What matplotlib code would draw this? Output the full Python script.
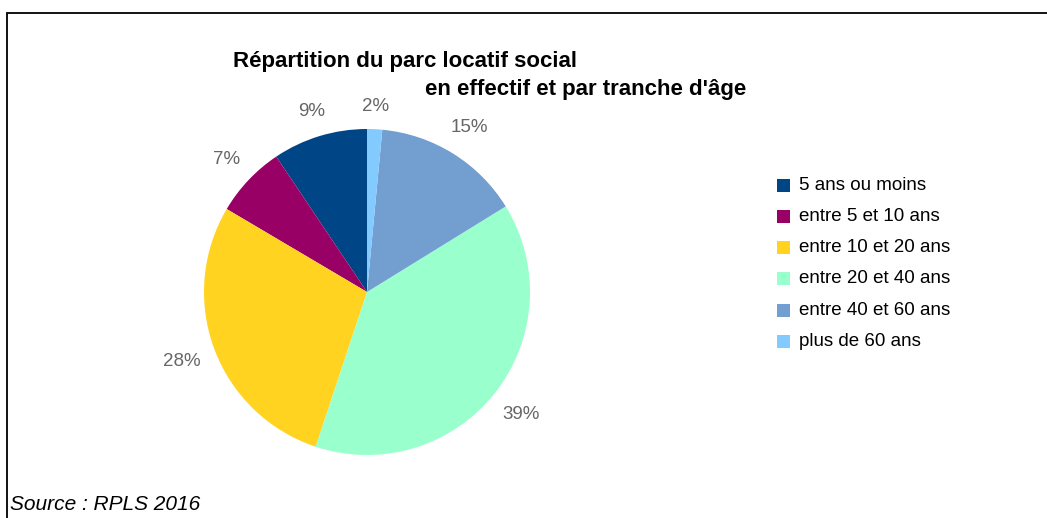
import matplotlib
matplotlib.use("Agg")
import numpy as np
import matplotlib.pyplot as plt
from matplotlib.patches import Rectangle

# Parc locatif social par tranche d'âge (RPLS 2016), en %
categories = ["5 ans ou moins", "entre 5 et 10 ans", "entre 10 et 20 ans",
              "entre 20 et 40 ans", "entre 40 et 60 ans", "plus de 60 ans"]
shares = [9.4, 7.1, 28.4, 38.9, 14.7, 1.5]
colors = ["#004586", "#990066", "#FFD320", "#99FFCC", "#729FCF", "#83CAFF"]

NARROW = ["Liberation Sans Narrow", "Liberation Sans", "DejaVu Sans"]
W, H = 1047, 518

fig = plt.figure(figsize=(W / 100, H / 100), dpi=100)


def px(x, y):
    """Pixel coords (top-left origin) -> figure fraction."""
    return x / W, 1 - y / H


# pie, centre (367, 292), radius 163 px
cx, cy, r = 367, 292, 163
ax = fig.add_axes([(cx - r) / W, (H - cy - r) / H, 2 * r / W, 2 * r / H])
wedges, _, pcts = ax.pie(shares, colors=colors, startangle=90, counterclock=True,
                         radius=1, autopct="%1.0f%%", pctdistance=1.2,
                         wedgeprops=dict(linewidth=0),
                         textprops=dict(color="#666666", fontsize=13.5, family=NARROW))
ax.set_xlim(-1, 1)
ax.set_ylim(-1, 1)
ax.set_axis_off()

# place each % label so its box sits a fixed gap outside the rim (LibreOffice style)
gap = 14
renderer = fig.canvas.get_renderer()
for wedge, txt in zip(wedges, pcts):
    mid = np.deg2rad((wedge.theta1 + wedge.theta2) / 2)
    dx, dy = np.cos(mid), np.sin(mid)
    bb = txt.get_window_extent(renderer)
    off = r + gap + abs(dx) * bb.width / 2 + abs(dy) * bb.height / 2
    txt.set_position((dx * off / r, dy * off / r))

# title
fig.text(*px(233, 62), "Répartition du parc locatif social", ha="left", va="center",
         fontsize=16, fontweight="bold", family=NARROW)
fig.text(*px(425, 90), "en effectif et par tranche d'âge", ha="left", va="center",
         fontsize=16, fontweight="bold", family=NARROW)

# legend
y0, step = 185, 31.3
for i, (cat, col) in enumerate(zip(categories, colors)):
    yy = y0 + i * step
    x, y = px(777, yy + 6.5)
    fig.patches.append(Rectangle((x, y), 13 / W, 13 / H, transform=fig.transFigure,
                                 facecolor=col, edgecolor="none"))
    fig.text(*px(799, yy), cat, ha="left", va="center", fontsize=13.5, family=NARROW)

# source
fig.text(*px(10, 505), "Source : RPLS 2016", ha="left", va="center",
         fontsize=15, fontstyle="italic", family=["Liberation Sans", "DejaVu Sans"])

# frame (top and left edges visible)
fig.patches.append(Rectangle(px(7, H + 20), (W + 20) / W, (H + 20 - 13) / H,
                             transform=fig.transFigure, fill=False,
                             edgecolor="black", linewidth=1.3))

fig.savefig("out.png", dpi=100, facecolor="white")
